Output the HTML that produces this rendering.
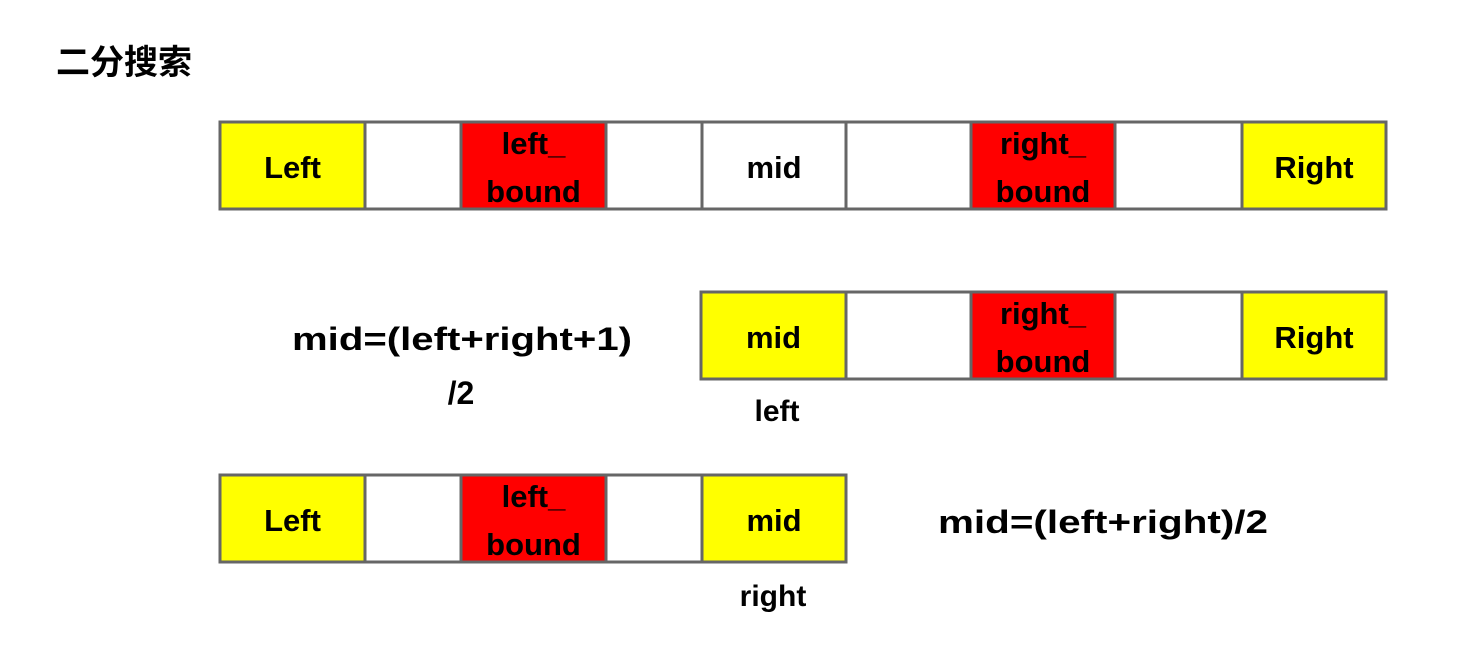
<!DOCTYPE html>
<html><head><meta charset="utf-8"><style>
body{margin:0;width:1483px;height:653px;background:#fff;overflow:hidden}
svg text{font-family:"Liberation Sans","Noto Sans CJK SC",sans-serif;font-weight:bold;fill:#000}
</style></head><body>
<svg width="1483" height="653">
<text x="56" y="74" font-size="34">二分搜索</text>
<g id="cells"></g>
<text x="292" y="350" font-size="32" textLength="340" lengthAdjust="spacingAndGlyphs">mid=(left+right+1)</text>
<text x="461" y="404" font-size="32" text-anchor="middle">/2</text>
<text x="777" y="421" font-size="30" text-anchor="middle">left</text>
<text x="938" y="533" font-size="32" textLength="330" lengthAdjust="spacingAndGlyphs">mid=(left+right)/2</text>
<text x="773" y="606" font-size="30" text-anchor="middle">right</text>
</svg>
<script>
const Y='#ffff00',R='#ff0000',W='#ffffff';
const rows=[
 {y:122,cells:[[220,365,Y,'Left'],[365,461,W,''],[461,606,R,'left_|bound'],[606,702,W,''],[702,846,W,'mid'],[846,971,W,''],[971,1115,R,'right_|bound'],[1115,1242,W,''],[1242,1386,Y,'Right']]},
 {y:292,cells:[[701,846,Y,'mid'],[846,971,W,''],[971,1115,R,'right_|bound'],[1115,1242,W,''],[1242,1386,Y,'Right']]},
 {y:475,cells:[[220,365,Y,'Left'],[365,461,W,''],[461,606,R,'left_|bound'],[606,702,W,''],[702,846,Y,'mid']]}
];
const g=document.getElementById('cells');const ns='http://www.w3.org/2000/svg';
rows.forEach((r,ri)=>{r.cells.forEach((c,ci)=>{
 const rect=document.createElementNS(ns,'rect');
 rect.setAttribute('x',c[0]);rect.setAttribute('y',r.y);rect.setAttribute('width',c[1]-c[0]);rect.setAttribute('height',87);
 rect.setAttribute('fill',c[2]);rect.setAttribute('stroke','#666');rect.setAttribute('stroke-width','3');
 
 
 g.appendChild(rect);
 if(c[3]){const lines=c[3].split('|');const cx=(c[0]+c[1])/2;
  lines.forEach((l,li)=>{const t=document.createElementNS(ns,'text');
   t.setAttribute('x',cx);t.setAttribute('text-anchor','middle');t.setAttribute('font-size','31');
   t.setAttribute('y',lines.length==1?r.y+56:r.y+32+li*48);t.textContent=l;
   
   
   g.appendChild(t);});}
});});
</script>
</body></html>
